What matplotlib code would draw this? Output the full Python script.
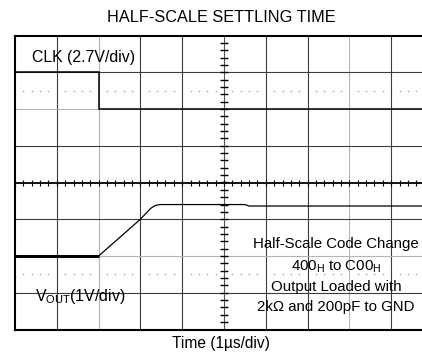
import numpy as np
import matplotlib
matplotlib.use("Agg")
import matplotlib.pyplot as plt

plt.rcParams["font.family"] = ["Liberation Sans", "DejaVu Sans"]
plt.rcParams["mathtext.fontset"] = "custom"
plt.rcParams["mathtext.rm"] = "Liberation Sans"
plt.rcParams["mathtext.it"] = "Liberation Sans:italic"
plt.rcParams["mathtext.bf"] = "Liberation Sans:bold"

# Scope traces, in graticule divisions (x: 1 us/div, y: centre line = 0)
clk_t = [0.0, 2.0, 2.0, 10.0]
clk_v = [3.0, 3.0, 2.0, 2.0]

vout_t = [0.0, 2.0, 3.0, 3.25, 3.35, 3.45, 5.5, 5.6, 10.0]
vout_v = [-2.0, -2.0, -1.0, -0.70, -0.63, -0.60, -0.60, -0.64, -0.64]

title = "HALF-SCALE SETTLING TIME"
xlabel = "Time (1\u00b5s/div)"
clk_label = "CLK (2.7V/div)"
vout_label = r"V$_{\mathregular{OUT}}$(1V/div)"
note_lines = [
    "Half-Scale Code Change",
    r"400$_{\mathregular{H}}$ to C00$_{\mathregular{H}}$",
    "Output Loaded with",
    "2k\u03a9 and 200pF to GND",
]

W, H = 422, 356
fig = plt.figure(figsize=(W / 100, H / 100), dpi=100)
ax_left, ax_top, ax_bottom = 15, 35.5, 329.5
ax_w = 418
ax = fig.add_axes([ax_left / W, 1 - ax_bottom / H, ax_w / W, (ax_bottom - ax_top) / H])
ax.set_xlim(0, 10)
ax.set_ylim(-4, 4)
ax.set_xticks([])
ax.set_yticks([])
for s in ax.spines.values():
    s.set_linewidth(1.5)
    s.set_color("black")

dark = "#3c3c3c"
light = "#b4b4b4"

# graticule
for i in range(1, 10):
    if i == 5:
        continue
    ax.axvline(i, color=light if i in (2, 8) else dark, lw=0.8, zorder=1)
for j in range(-3, 4):
    if j == 0:
        continue
    ax.axhline(j, color=light if abs(j) == 2 else dark, lw=0.8, zorder=1)

# dotted sub-division rows
sub_x = np.array([k / 5 for k in range(1, 50) if k % 5 != 0])
for yy in (2.5, -2.5):
    ax.plot(sub_x, np.full_like(sub_x, yy), ls="none", marker="s", ms=1.0,
            mfc="#a8a8a8", mec="none", zorder=1)

# centre cross with minor ticks
ax.axvline(5, color="#555555", lw=0.8, zorder=2)
ax.axhline(0, color="black", lw=1.3, zorder=2)
tick_x = np.arange(0, 10.01, 0.2)
ax.plot(tick_x, np.zeros_like(tick_x), ls="none", marker="|", ms=4.2, mew=0.8,
        color="black", zorder=2)
tick_y = np.arange(-4, 4.01, 0.2)
ax.plot(np.full_like(tick_y, 5), tick_y, ls="none", marker="_", ms=5.2, mew=1.0,
        color="black", zorder=2)

# traces
ax.plot(clk_t, clk_v, color="black", lw=1.1, zorder=3, solid_joinstyle="miter")
ax.plot(vout_t, vout_v, color="black", lw=0.9, zorder=3)
ax.plot(vout_t[:2], vout_v[:2], color="black", lw=2.2, zorder=3, solid_capstyle="butt")

fs = 11.4
ax.text(0.40, 3.29, clk_label, fontsize=fs, ha="left", va="baseline", zorder=4)
ax.text(0.48, -3.22, vout_label, fontsize=fs, ha="left", va="baseline", zorder=4)
for txt, yb in zip(note_lines, [-1.78, -2.40, -2.95, -3.49]):
    ax.text(7.68, yb, txt, fontsize=10.8, ha="center", va="baseline", zorder=4)

fig.text(221 / W, 1 - 21.7 / H, title, fontsize=11.7, ha="center", va="baseline")
fig.text(221 / W, 1 - 348.3 / H, xlabel, fontsize=11.2, ha="center", va="baseline")

fig.savefig("out.png", dpi=100, facecolor="white")
